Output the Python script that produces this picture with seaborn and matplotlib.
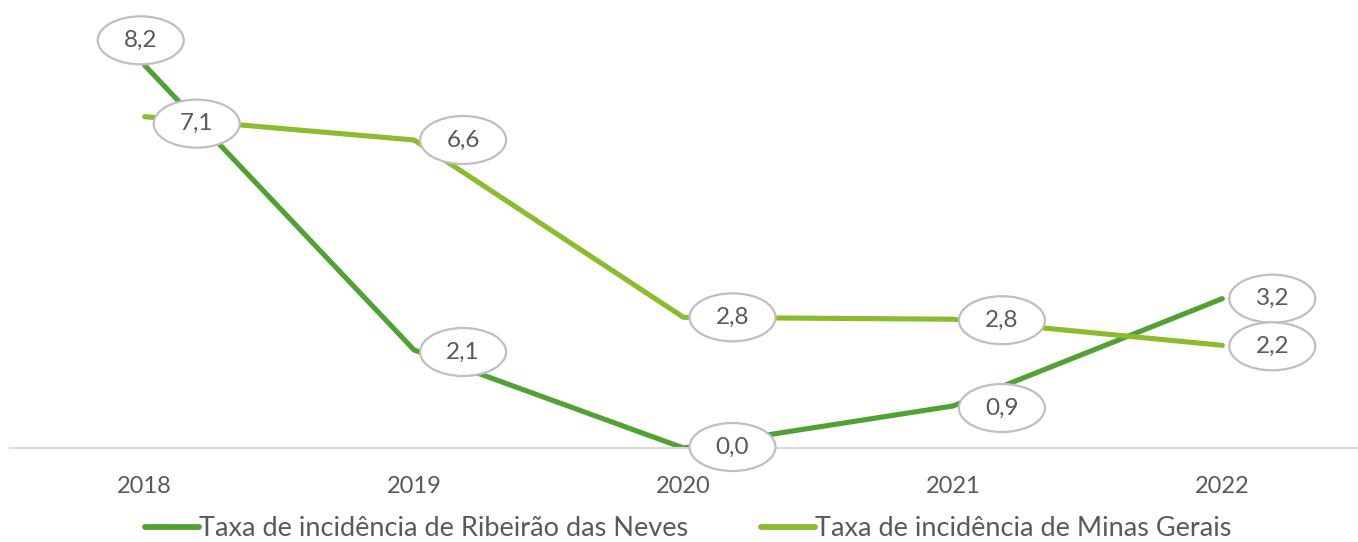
import matplotlib
matplotlib.use("Agg")
import matplotlib.pyplot as plt
import seaborn as sns
import pandas as pd
from matplotlib.patches import Ellipse
from matplotlib.transforms import ScaledTranslation

years = ["2018", "2019", "2020", "2021", "2022"]
ribeirao = [8.2, 2.1, 0.0, 0.9, 3.2]
minas = [7.1, 6.6, 2.8, 2.76, 2.2]
series_names = ["Taxa de incidência de Ribeirão das Neves",
                "Taxa de incidência de Minas Gerais"]
colors = ["#52A135", "#8CBB2F"]

sns.set_theme(style="white")
plt.rcParams['font.family'] = ['Lato', 'DejaVu Sans']

DPI = 100
fig = plt.figure(figsize=(13.58, 5.42), dpi=DPI)
ax = fig.add_axes([10/1358, (542-448)/542, 1347/1358, 420/542])

df = pd.DataFrame({
    "pos": list(range(len(years))) * 2,
    "valor": ribeirao + minas,
    "serie": [series_names[0]] * len(years) + [series_names[1]] * len(years),
})
sns.lineplot(data=df, x="pos", y="valor", hue="serie", palette=colors,
             linewidth=3.7, ax=ax, legend=True, solid_joinstyle="round",
             solid_capstyle="round")

ax.set_xlim(-0.5, len(years) - 0.5)
ax.set_ylim(0, 9)
ax.set_xticks(range(len(years)))
ax.set_xticklabels(years, fontsize=17, color="#595959")
ax.set_yticks([])
ax.set_xlabel("")
ax.set_ylabel("")
for s in ["top", "right", "left"]:
    ax.spines[s].set_visible(False)
ax.spines["bottom"].set_color("#D9D9D9")
ax.spines["bottom"].set_linewidth(1.5)
ax.tick_params(axis="x", length=0, pad=20)

def label(x, y, text, dx_px, dy_px):
    tr = fig.dpi_scale_trans + ScaledTranslation(x, y, ax.transData)
    e = Ellipse((dx_px / DPI, dy_px / DPI), 86 / DPI, 48 / DPI, transform=tr,
                facecolor="white", edgecolor="#BFBFBF", linewidth=1.6,
                zorder=5, clip_on=False)
    ax.add_artist(e)
    ax.text(dx_px / DPI, dy_px / DPI, text, transform=tr, ha="center",
            va="center", fontsize=17.5, color="#595959", zorder=6, clip_on=False)

def fmt(v):
    return f"{v:.1f}".replace(".", ",")

ofs_r = [(-4, 25), (49, -2), (49, 1), (49, -2), (50, 0)]
ofs_m = [(52, -7), (49, 0), (49, 0), (49, -1), (50, -1)]
for i, v in enumerate(ribeirao):
    label(i, v, fmt(v), *ofs_r[i])
for i, v in enumerate(minas):
    label(i, v, fmt(v), *ofs_m[i])

leg = ax.legend(loc="center", ncol=2, frameon=False,
                fontsize=19.5, handlelength=2.0, handletextpad=0.0,
                columnspacing=2.7, labelcolor="#595959")
leg.set_bbox_to_anchor((688 / 1358, 1 - 529 / 542), transform=fig.transFigure)
for h in leg.get_lines():
    h.set_linewidth(4.2)

fig.savefig("out.png", dpi=DPI)
